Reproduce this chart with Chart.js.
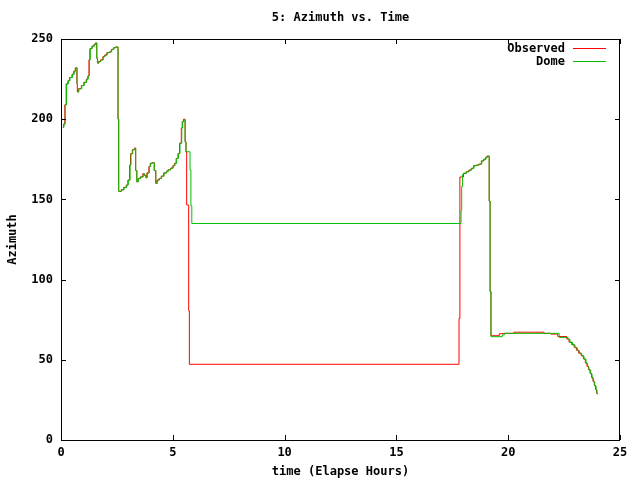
<!DOCTYPE html>
<html>
<head>
<meta charset="utf-8">
<script src="https://cdn.jsdelivr.net/npm/chart.js@4/dist/chart.umd.min.js"></script>
<style>
  html, body { margin: 0; padding: 0; background: #fff; }
  #wrap { width: 640px; height: 480px; }
</style>
</head>
<body>
<div id="wrap"><canvas id="azimuth-chart" width="640" height="480"></canvas></div>
<script>
// elapsed hours / azimuth (value holds from each time on)
const obsHours = [0.08, 0.12, 0.17, 0.23, 0.31, 0.38, 0.49, 0.57, 0.64, 0.71, 0.73, 0.78, 0.91, 1.02, 1.13, 1.20,
  1.25, 1.29, 1.38, 1.47, 1.53, 1.60, 1.63, 1.68, 1.77, 1.87, 1.95, 2.05, 2.17, 2.25, 2.34, 2.43, 2.55, 2.58,
  2.69, 2.80, 2.92, 2.99, 3.07, 3.11, 3.19, 3.29, 3.34, 3.39, 3.44, 3.54, 3.66, 3.73, 3.80, 3.84, 3.93, 3.99,
  4.08, 4.17, 4.24, 4.29, 4.38, 4.48, 4.59, 4.71, 4.78, 4.90, 5.00, 5.08, 5.15, 5.23, 5.30, 5.38, 5.42, 5.48,
  5.55, 5.59, 5.62, 5.71, 5.74, 17.80, 17.84, 18.00, 18.12, 18.24, 18.35, 18.45, 18.57, 18.69, 18.80, 18.90,
  18.99, 19.05, 19.15, 19.19, 19.23, 19.60, 19.80, 20.26, 21.60, 21.91, 22.22, 22.62, 22.72, 22.84, 22.95,
  23.05, 23.15, 23.26, 23.36, 23.45, 23.52, 23.59, 23.66, 23.73, 23.79, 23.85, 23.91, 23.96, 23.99];
const obsAzimuth = [195, 197, 209, 222, 224, 226, 228, 230, 232, 222, 217, 219, 221, 223, 225, 227,
  237, 244, 245.5, 246.5, 247.5, 238, 235, 236, 237, 239, 240, 241.5, 242, 243.5, 244.5, 245, 200, 155,
  156, 157.5, 159, 162, 171.5, 178.5, 181, 182, 168, 161, 163, 164, 166, 165, 163.5, 166.5, 170.5, 172.5,
  173, 168, 160, 162, 163, 164.5, 166.5, 167.5, 168.5, 169.5, 171, 172.5, 175.5, 178.5, 185, 194.5, 198.5, 200,
  186, 179.7, 146.5, 80.6, 47.2, 75.8, 164, 166.3, 167.3, 168.3, 169.4, 171, 171.4, 172, 174, 175,
  176.2, 177, 149, 92.5, 65, 66.3, 66.5, 67.2, 66.5, 66, 64.5, 63, 61, 59.5, 57.8,
  56, 54.2, 52.6, 50.6, 48, 46, 44, 41.5, 39, 36.6, 34, 31.5, 29, 28.5];

const domeHours = [0.08, 0.13, 0.19, 0.25, 0.33, 0.40, 0.51, 0.59, 0.66, 0.72, 0.74, 0.80, 0.93, 1.04, 1.15, 1.22,
  1.27, 1.31, 1.40, 1.49, 1.55, 1.60, 1.64, 1.70, 1.79, 1.89, 1.97, 2.07, 2.19, 2.27, 2.36, 2.45, 2.55, 2.58,
  2.71, 2.82, 2.94, 3.01, 3.09, 3.13, 3.21, 3.31, 3.34, 3.39, 3.46, 3.56, 3.68, 3.73, 3.80, 3.86, 3.95, 4.01,
  4.10, 4.17, 4.24, 4.31, 4.40, 4.50, 4.61, 4.73, 4.80, 4.92, 5.02, 5.10, 5.17, 5.25, 5.32, 5.40, 5.44, 5.50,
  5.55, 5.59, 5.77, 5.81, 5.85, 17.89, 17.92, 17.96, 18.02, 18.14, 18.26, 18.37, 18.47, 18.59, 18.71, 18.82,
  18.92, 19.01, 19.07, 19.15, 19.19, 19.23, 19.74, 19.83, 22.28, 22.66, 22.76, 22.88, 22.99, 23.09, 23.18,
  23.29, 23.39, 23.48, 23.55, 23.61, 23.69, 23.75, 23.81, 23.87, 23.93, 23.97];
const domeAzimuth = [195, 197, 209, 222, 224, 226, 228, 230, 232, 222, 217, 219, 221, 223, 225, 227,
  237, 244, 245.5, 246.5, 247.5, 238, 235, 236, 237, 239, 240, 241.5, 242, 243.5, 244.5, 245, 200, 155,
  156, 157.5, 159, 162, 171.5, 178.5, 181, 182, 168, 161, 163, 164, 166, 165, 163.5, 166.5, 170.5, 172.5,
  173, 168, 160, 162, 163, 164.5, 166.5, 167.5, 168.5, 169.5, 171, 172.5, 175.5, 178.5, 185, 194.5, 198.5, 199.5,
  186, 179.7, 168.3, 146, 135, 143, 158, 165.6, 166.3, 167.3, 168.3, 169.4, 171, 171.4, 172, 174,
  175, 176.2, 177, 149, 92.5, 64.4, 65.5, 66.5, 64, 62.8, 60.9, 59.2, 57.5, 55.7, 54,
  52.4, 50.3, 47.8, 45.7, 43.6, 41.1, 38.5, 36.3, 33.7, 31.2, 28.7];

const xTicks = [0, 5, 10, 15, 20, 25];
const yTicks = [0, 50, 100, 150, 200, 250];

const FONT = { family: '"DejaVu Sans Mono", "Liberation Mono", monospace', size: 12, weight: 'bold' };

const toPoints = (xs, ys) => xs.map((x, i) => ({ x: x, y: ys[i] }));

// gnuplot style frame: box all round with inward ticks on every side
const framePlugin = {
    id: 'frame',
    afterDatasetsDraw(chart) {
        const ctx = chart.ctx;
        const a = chart.chartArea;
        const xs = chart.scales.x;
        const ys = chart.scales.y;
        const len = 5;
        ctx.save();
        ctx.strokeStyle = '#000';
        ctx.lineWidth = 1;
        ctx.strokeRect(a.left + 0.5, a.top + 0.5, a.right - a.left - 1, a.bottom - a.top);
        ctx.beginPath();
        xTicks.forEach(v => {
            const px = Math.round(xs.getPixelForValue(v)) + 0.5;
            ctx.moveTo(px, a.bottom);
            ctx.lineTo(px, a.bottom - len);
            ctx.moveTo(px, a.top);
            ctx.lineTo(px, a.top + len);
        });
        yTicks.forEach(v => {
            const py = Math.round(ys.getPixelForValue(v)) + 0.5;
            ctx.moveTo(a.left, py);
            ctx.lineTo(a.left + len, py);
            ctx.moveTo(a.right, py);
            ctx.lineTo(a.right - len, py);
        });
        ctx.stroke();
        ctx.restore();
    }
};

// key in the top right corner: label right-aligned, sample line after it
const keyPlugin = {
    id: 'key',
    afterDraw(chart) {
        const ctx = chart.ctx;
        const a = chart.chartArea;
        const order = [0, 1];
        ctx.save();
        ctx.font = 'bold 12px "DejaVu Sans Mono", "Liberation Mono", monospace';
        ctx.textAlign = 'right';
        ctx.textBaseline = 'middle';
        order.forEach((idx, row) => {
            const ds = chart.data.datasets[idx];
            const y = a.top + 10 + row * 13;
            ctx.fillStyle = '#000';
            ctx.fillText(ds.label, a.right - 55, y);
            ctx.strokeStyle = ds.borderColor;
            ctx.lineWidth = 1;
            ctx.beginPath();
            ctx.moveTo(a.right - 47, y - 0.5);
            ctx.lineTo(a.right - 14, y - 0.5);
            ctx.stroke();
        });
        ctx.restore();
    }
};

const config = {
    type: 'line',
    data: {
        datasets: [
            {
                label: 'Observed',
                data: toPoints(obsHours, obsAzimuth),
                borderColor: '#ff0000',
                borderWidth: 1,
                pointRadius: 0,
                stepped: 'before',
                order: 1
            },
            {
                label: 'Dome',
                data: toPoints(domeHours, domeAzimuth),
                borderColor: '#00c000',
                borderWidth: 1,
                pointRadius: 0,
                stepped: 'before',
                order: 0
            }
        ]
    },
    options: {
        responsive: false,
        animation: false,
        layout: { padding: { left: 0, right: 20, top: 0, bottom: 0 } },
        plugins: {
            legend: { display: false },
            tooltip: { enabled: false },
            title: {
                display: true,
                text: '5: Azimuth vs. Time',
                color: '#000',
                font: FONT,
                fullSize: false,
                padding: { top: 11, bottom: 13.6 }
            }
        },
        scales: {
            x: {
                type: 'linear',
                min: 0,
                max: 25,
                grid: { display: false, drawTicks: false },
                border: { display: false },
                ticks: { stepSize: 5, color: '#000', font: FONT, padding: 6, maxRotation: 0 },
                title: { display: true, text: 'time (Elapse Hours)', color: '#000', font: FONT, padding: { top: 0, bottom: 1 } },
                afterFit: (s) => { s.height = 40; }
            },
            y: {
                min: 0,
                max: 250,
                grid: { display: false, drawTicks: false },
                border: { display: false },
                ticks: { stepSize: 50, color: '#000', font: FONT, padding: 8 },
                title: { display: true, text: 'Azimuth', color: '#000', font: FONT, padding: { top: 6, bottom: 0 } },
                afterFit: (s) => { s.width = 61; }
            }
        }
    },
    plugins: [framePlugin, keyPlugin]
};

new Chart(document.querySelector('#azimuth-chart'), config);
</script>
</body>
</html>
